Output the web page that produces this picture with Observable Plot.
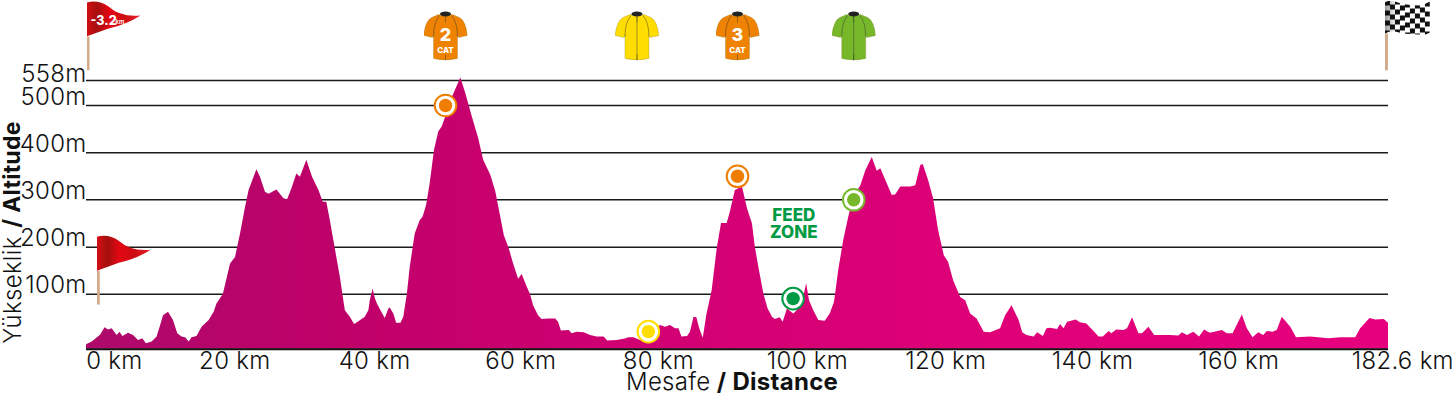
<!DOCTYPE html>
<html><head><meta charset="utf-8">
<style>html,body{margin:0;padding:0;background:#fff}svg{display:block}
svg g[font-weight="300"],svg g[font-weight="700"]{letter-spacing:.012em}</style>
<script src="https://cdn.jsdelivr.net/npm/d3@7"></script>
<script src="https://cdn.jsdelivr.net/npm/@observablehq/plot@0.6"></script>
</head><body><div id="c"></div>
<script>
const profileKm = [0,0.8,2,2.6,3.1,3.6,4.3,4.7,5.1,5.9,6.6,7.3,7.9,8.4,9.2,9.9,10.4,10.8,11.5,12.2,12.8,13.4,13.9,14.4,14.8,15.5,16.2,17.2,17.9,18.3,19.2,20.2,20.9,21.6,22.3,22.8,23.5,23.9,24.4,25.1,25.6,26.7,27.7,28.2,28.8,29.5,30,30.9,31.7,32.6,33.2,33.7,34.2,34.9,35.6,36.3,37,37.6,38.2,39.1,39.6,39.8,40.2,40.5,40.8,41.3,41.9,42.4,42.6,43.1,43.5,44.1,44.5,45,45.4,46.1,46.8,47.2,47.7,48.2,48.8,49.4,49.9,50.4,51.1,52.5,53.2,54.1,55,55.7,56.7,57.4,58.1,58.6,59.3,59.9,60.6,61.1,61.7,62.3,62.7,63.4,63.9,64.8,65.8,66.2,66.6,67.7,68.1,68.8,69.8,70.7,71.6,72.6,73.1,74.4,75.4,76.1,76.8,77.7,78.9,80.5,81.2,81.9,82.6,83.1,83.5,84.3,84.7,85.2,85.6,86,86.5,87,87.75,88.45,89.06,89.85,90.3,91,92,92.7,93.4,93.8,94.3,95,95.6,96.2,96.6,97.3,97.7,98.3,99.2,99.9,100.6,101,101.4,102,102.7,103.6,104.3,104.9,105.5,106.2,106.9,107.6,108.6,109.3,110.2,110.9,111.4,112.3,113,113.5,114.2,115.6,116.3,117,117.35,118.1,118.8,119.5,120.3,120.9,121.6,122.6,123.3,124,124.9,125.9,126.8,128.2,128.9,129.8,130.8,131.3,131.9,132.9,133.4,134.2,134.7,135.2,136.2,136.6,137.1,137.6,138.8,139.4,140.3,141.3,142,142.6,143.4,143.8,144.5,145.5,146,146.7,147.6,148.1,149,149.8,152,153.2,153.7,154.4,155.3,156.1,156.8,157.6,159.3,160,160.8,162.1,162.8,163.6,164.4,165.1,165.6,166.4,167,167.7,168.9,169.7,171.7,174.2,175.9,178,178.7,180,180.8,182,182.6];
const profileAlt = [8,13,26,39,35,37,25,31,23,29,25,16,19,10,13,22,43,61,67,52,28,22,21,13,21,23,40,52,67,82,100,164,178,228,284,320,348,364,348,316,312,321,302,300,323,355,348,384,348,320,295,295,256,196,136,70,58,45,50,58,70,88,111,92,82,70,56,73,75,64,47,47,58,100,157,228,256,263,288,334,405,444,455,476,511,564,527,476,430,384,352,317,263,224,196,164,132,142,119,98,79,61,54,55,55,49,33,34,28,31,30,25,22,22,15,16,18,21,21,16,28,43,40,43,37,37,22,23,31,58,57,37,20,62,108,196,250,250,274,320,327,281,249,200,157,100,73,58,54,57,49,73,64,73,95,122,88,70,52,51,64,85,151,214,263,306,330,362,390,361,366,334,309,311,327,327,330,373,375,341,302,235,182,168,129,94,88,64,55,31,30,37,61,79,52,30,25,22,30,23,37,38,36,45,37,49,53,48,46,32,22,22,32,28,35,34,37,57,28,28,40,25,25,24,30,25,31,22,35,29,34,28,28,62,37,21,30,25,32,31,34,58,40,21,22,19,21,21,37,56,53,54,47];
const profile = profileKm.map((km,i)=>({km,alt:profileAlt[i]}));

const yTicks = [100,200,300,400,500,558];
const xLabels = ["0 km","20 km","40 km","60 km","80 km","100 km","120 km","140 km","160 km","182.6 km"];
const xLabelKm = [3.9,20.8,40.4,60.9,80.2,101.1,120.5,141.1,161.6,184.6];

const climbKm = [50.35,91.3,78.8,99.1,107.6];
const climbAlt = [500,350,32,92,300];
const climbColor = ["#ef7d00","#ef7d00","#ffdd00","#009a44","#76b82a"];
const climbs = climbKm.map((km,i)=>({km,alt:climbAlt[i],color:climbColor[i]}));

const jerseyKm = [50.35,77.2,91.3,107.6];
const jerseyColor = ["#ef8200","#ffdd00","#ef8200","#76b82a"];
const jerseyNum = ["2","","3",""];
const jerseyCat = ["CAT","","CAT",""];
const jerseys = jerseyKm.map((km,i)=>({km,color:jerseyColor[i],num:jerseyNum[i],cat:jerseyCat[i]}));

const uri = s => "data:image/svg+xml;utf8," + encodeURIComponent(s);
const jerseySvg = c => uri(`<svg xmlns="http://www.w3.org/2000/svg" width="44" height="50" viewBox="0 0 44 50">
<path d="M15,4 L8,7 Q2,10 0,25 L9,27 L10,25 L10,48 Q22,51 34,48 L34,25 L35,27 L44,25 Q42,10 36,7 L29,4 Q22,7 15,4 Z" fill="${c}" stroke="#8a7a30" stroke-opacity=".6" stroke-width=".5"/>
<path d="M16,5 Q10,12 10,26 M28,5 Q34,12 34,26 M22,6 V12 M22,44 V50" fill="none" stroke="#333" stroke-opacity=".75" stroke-width=".6"/>
${c==="#ef8200"?"":'<path d="M22,6 V50" stroke="#333" stroke-opacity=".75" stroke-width=".6"/>'}
<ellipse cx="22" cy="3.5" rx="5.5" ry="2.4" fill="#222"/></svg>`);
const redFlag = uri(`<svg xmlns="http://www.w3.org/2000/svg" width="54" height="70" viewBox="0 0 54 70">
<defs><linearGradient id="r"><stop offset="0" stop-color="#d50d14"/><stop offset=".2" stop-color="#a5100f"/><stop offset=".42" stop-color="#e30613"/><stop offset=".7" stop-color="#cc0d12"/><stop offset="1" stop-color="#e8202a"/></linearGradient></defs>
<rect x="0" y="36" width="3" height="34" fill="#d3ab8a"/>
<path d="M0,2 Q12,-1 22,6 Q34,17 54,15 Q40,24 22,28 L0,36 Z" fill="url(#r)"/></svg>`);
const cells = [];
for (let i=0;i<9;i++) for (let j=0;j<7;j++) {
  if ((i+j)%2) continue;
  const off=[1,0,0,1,3,4,4,3,2][i];
  cells.push(`<rect x="${i*5}" y="${j*5+off-1}" width="5" height="5" fill="#111"/>`);
}
const finishFlag = uri(`<svg xmlns="http://www.w3.org/2000/svg" width="45" height="70" viewBox="0 0 45 70">
<rect x="0" y="33" width="3" height="37" fill="#d3ab8a"/>
<defs><clipPath id="f"><path d="M0,2 Q5,-1 10,1 Q20,5 35,5 Q40,4 45,1 V32 Q40,35 35,34 Q20,34 10,31 Q5,30 0,33 Z"/></clipPath>
<linearGradient id="s"><stop offset="0" stop-color="#999"/><stop offset=".25" stop-color="#fff"/></linearGradient></defs>
<g clip-path="url(#f)"><rect width="45" height="36" fill="url(#s)"/>${cells.join("")}</g></svg>`);

const defs = () => {
  const d = d3.create("svg:defs");
  const g = d.append("linearGradient").attr("id","areaFill");
  [[0,"#ad0a6b"],[.2,"#bf0069"],[.4,"#cf0072"],[.7,"#df0078"],[1,"#e6007e"]]
    .forEach(([o,c])=>g.append("stop").attr("offset",o).attr("stop-color",c));
  return d.node();
};
const FONT = "Inter, 'Noto Sans', sans-serif";
const chart = Plot.plot({
  width:1453, height:395, margin:0,
  style:{fontFamily:FONT, background:"#fff", color:"#111"},
  x:{axis:null, domain:[0,182.6], range:[86,1388]},
  y:{axis:null, type:"linear", domain:[0,100,200,300,400,500,558], range:[348.7,293.7,246.7,199.3,152.3,105,80]},
  marks:[
    defs,
    Plot.ruleY(yTicks,{x1:0,x2:182.6,stroke:"#1a1a1a",strokeWidth:1.5}),
    Plot.areaY(profile,{x:"km",y1:()=>0,y2:"alt",fill:"url(#areaFill)"}),
    Plot.ruleY([0],{x1:0,x2:182.6,stroke:"#111",strokeWidth:2}),
    Plot.text(yTicks.slice(0,5),{x:()=>0,y:d=>d,text:d=>d+"m",textAnchor:"end",lineAnchor:"bottom",dy:-1,fontSize:24,fontWeight:300,fill:"#111"}),
    Plot.text(yTicks.slice(5),{x:()=>0,y:d=>d,text:d=>d+"m",textAnchor:"end",lineAnchor:"bottom",dy:1,fontSize:24,fontWeight:300,fill:"#111"}),
    Plot.text(xLabels,{x:(d,i)=>xLabelKm[i],y:()=>0,text:d=>d,dy:12,fontSize:24,fontWeight:300,fill:"#111"}),
    Plot.text(["Mesafe"],{x:()=>87.5,frameAnchor:"bottom",dy:-13,lineAnchor:"middle",text:d=>d,textAnchor:"end",fontSize:24,fontWeight:300,fill:"#111"}),
    Plot.text(["/ Distance"],{x:()=>88.4,frameAnchor:"bottom",dy:-13,lineAnchor:"middle",text:d=>d,textAnchor:"start",fontSize:24,fontWeight:700,fill:"#111"}),
    Plot.text(["Yükseklik"],{frameAnchor:"left",dx:12.5,y:()=>10,text:d=>d,rotate:-90,textAnchor:"start",fontSize:24,fontWeight:300,fill:"#111"}),
    Plot.text(["/ Altitude"],{frameAnchor:"left",dx:12.5,y:()=>241,text:d=>d,rotate:-90,textAnchor:"start",fontSize:23,fontWeight:700,fill:"#111"}),
    Plot.dot(climbs,{x:"km",y:"alt",r:10.8,fill:"#fff",stroke:"color",strokeWidth:2}),
    Plot.dot(climbs,{x:"km",y:"alt",r:6.7,fill:"color"}),
    Plot.text(["FEED\nZONE"],{x:()=>99.2,y:()=>248,text:d=>d,fontSize:17,fontWeight:800,fill:"#009a44",lineHeight:1}),
    Plot.image(jerseys,{x:"km",frameAnchor:"top",dy:35,width:44,height:50,src:d=>jerseySvg(d.color)}),
    Plot.text(jerseys,{x:"km",frameAnchor:"top",dy:35,lineAnchor:"middle",text:"num",fontSize:18,fontWeight:800,fill:"#fff"}),
    Plot.text(jerseys,{x:"km",frameAnchor:"top",dy:49.5,lineAnchor:"middle",text:"cat",fontSize:8,fontWeight:800,fill:"#fff"}),
    Plot.image(["start"],{x:()=>0,frameAnchor:"top",dy:35,dx:27,width:54,height:70,src:()=>redFlag}),
    Plot.image(["line"],{x:()=>1.44,y:()=>152,dx:27,width:54,height:70,src:()=>redFlag}),
    Plot.image(["finish"],{x:()=>182.1,frameAnchor:"top",dy:35,dx:22.5,width:45,height:70,src:()=>finishFlag}),
    Plot.text(["-3.2"],{x:()=>0,frameAnchor:"top",dy:20,dx:4,lineAnchor:"middle",text:d=>d,textAnchor:"start",fontSize:12.5,fontWeight:800,fill:"#fff"}),
    Plot.text(["km"],{x:()=>0,frameAnchor:"top",dy:22,dx:29,lineAnchor:"middle",text:d=>d,textAnchor:"start",fontSize:6,fontWeight:600,fill:"#fff"})
  ]
});
document.getElementById("c").append(chart);
</script></body></html>
